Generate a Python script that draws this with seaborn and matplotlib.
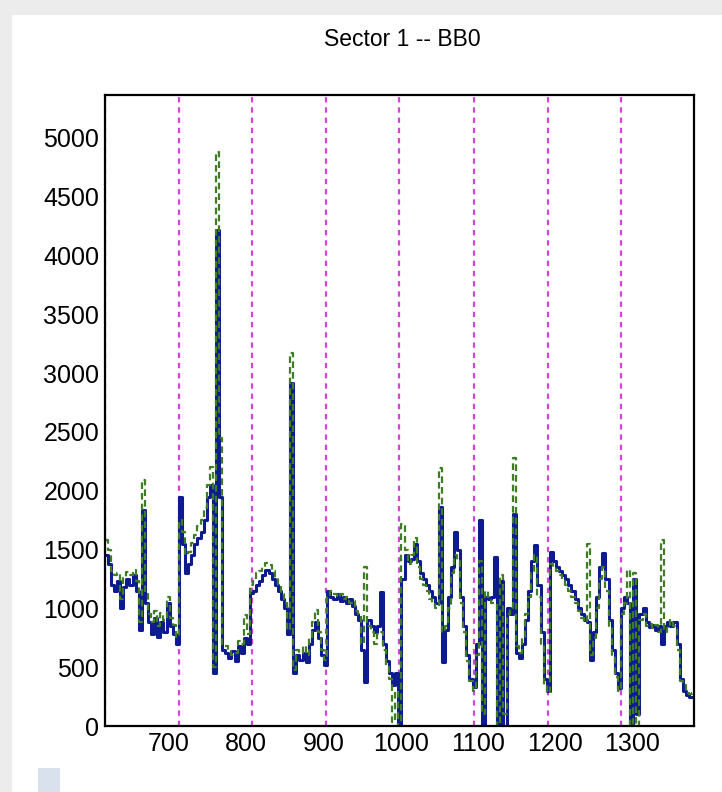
import numpy as np
import pandas as pd
import seaborn as sns
import matplotlib
matplotlib.use("Agg")
import matplotlib.pyplot as plt
from matplotlib.patches import Rectangle
from matplotlib.ticker import MultipleLocator

# Channel axis: 4-channel bins from 617 to 1381
bin_start = 617
bin_width = 4
n_bins = 191

# Counts per bin, first pass (solid blue)
counts_a = [
    1450, 1380, 1200, 1150, 1230, 1000, 1180, 1250, 1200, 1280,
    1150, 820, 1840, 1050, 880, 780, 920, 760, 880, 800,
    1050, 850, 780, 700, 1950, 1550, 1300, 1380, 1450, 1550,
    1600, 1650, 1750, 1950, 2050, 450, 4220, 1950, 650, 620,
    580, 640, 550, 680, 620, 750, 700, 1130, 1150, 1200,
    1230, 1280, 1330, 1300, 1250, 1200, 1150, 1080, 1000, 780,
    2920, 450, 600, 560, 620, 540, 700, 820, 880, 750,
    600, 520, 1150, 1100, 1080, 1120, 1060, 1100, 1050, 1080,
    1020, 950, 900, 650, 370, 900, 850, 800, 850, 1140,
    700, 550, 450, 350, 450, 0, 1250, 1450, 1400, 1420,
    1550, 1400, 1300, 1250, 1200, 1150, 1100, 1050, 1860, 540,
    820, 1100, 1350, 1650, 1500, 1100, 850, 600, 400, 330,
    700, 1750, 0, 1100, 1080, 1100, 1440, 0, 1230, 0,
    1000, 950, 1800, 620, 580, 700, 900, 1150, 1400, 1540,
    1200, 800, 400, 300, 1480, 1400, 1350, 1320, 1280, 1250,
    1200, 1150, 1080, 1000, 950, 900, 880, 560, 800, 1100,
    1350, 1470, 1250, 900, 650, 450, 320, 1000, 1100, 1050,
    0, 1250, 100, 950, 1000, 880, 840, 860, 820, 850,
    700, 850, 880, 850, 880, 700, 400, 300, 260, 250,
    250,
]

# Counts per bin, second pass (dashed green)
counts_b = [
    1580, 1500, 1320, 1280, 1300, 1080, 1260, 1310, 1280, 1330,
    1230, 880, 2090, 1120, 950, 880, 980, 850, 960, 900,
    1100, 920, 860, 760, 1750, 1650, 1450, 1480, 1560, 1620,
    1700, 1750, 1850, 2050, 2200, 500, 4880, 2450, 700, 680,
    640, 600, 620, 720, 700, 940, 780, 1200, 1250, 1300,
    1320, 1350, 1390, 1370, 1320, 1250, 1200, 1120, 1050, 820,
    3170, 480, 650, 620, 680, 600, 760, 880, 990, 800,
    650, 560, 1100, 1150, 1120, 1100, 1120, 1080, 1100, 1050,
    1060, 980, 950, 700, 1350, 850, 800, 700, 780, 800,
    650, 500, 400, 30, 300, 0, 1720, 1500, 1380, 1450,
    1600, 1350, 1250, 1200, 1150, 1080, 1050, 1000, 2190, 800,
    850, 1000, 1300, 1450, 1400, 1050, 800, 550, 380, 300,
    600, 1400, 100, 1150, 1100, 1050, 1050, 0, 1280, 100,
    950, 1000, 2280, 680, 620, 760, 950, 1100, 1300, 1450,
    1100, 700, 350, 280, 1380, 1350, 1320, 1280, 1230, 1200,
    1150, 1100, 1050, 980, 920, 880, 1550, 600, 750, 1000,
    1250, 1350, 1150, 850, 600, 420, 300, 950, 1050, 1330,
    0, 1300, 0, 900, 950, 850, 870, 830, 860, 800,
    1580, 800, 850, 900, 850, 650, 380, 350, 280, 270,
    280,
]

# Sector boundaries (channel positions)
boundaries = [617, 713, 808, 903, 998, 1095, 1191, 1285]

x_ticks = [700, 800, 900, 1000, 1100, 1200, 1300]
y_ticks = [0, 500, 1000, 1500, 2000, 2500, 3000, 3500, 4000, 4500, 5000]
title = "Sector 1 -- BB0"

centers = bin_start + bin_width * (np.arange(n_bins) + 0.5)
df = pd.DataFrame({"channel": centers, "a": counts_a, "b": counts_b})
bin_range = (bin_start, bin_start + bin_width * n_bins)

sns.set_theme(style="white")
plt.rcParams["font.family"] = ["Liberation Sans", "DejaVu Sans"]

W, H = 722, 792
fig = plt.figure(figsize=(W / 100, H / 100), dpi=100)
fig.patch.set_facecolor("#ececec")
fig.add_artist(Rectangle((12 / W, 0), 1 - 12 / W, 1 - 15 / H,
                         transform=fig.transFigure, facecolor="white",
                         edgecolor="none", zorder=0))
fig.add_artist(Rectangle((38 / W, 0), 22 / W, 24 / H,
                         transform=fig.transFigure, facecolor="#d9e1ec",
                         edgecolor="none", zorder=1))

left, right, top, bottom = 104.7, 694.3, 95, 726
ax = fig.add_axes([left / W, 1 - bottom / H, (right - left) / W, (bottom - top) / H])
ax.set_facecolor("white")

for b in boundaries:
    ax.axvline(b, color="#d444dd", lw=1.6, dashes=(2.4, 2.2), zorder=1)

sns.histplot(data=df, x="channel", weights="a", binwidth=bin_width,
             binrange=bin_range, element="step", fill=False,
             color="#0d1a90", linewidth=2.2, ax=ax, zorder=3)
sns.histplot(data=df, x="channel", weights="b", binwidth=bin_width,
             binrange=bin_range, element="step", fill=False,
             color="#3f7d24", linewidth=1.6, ax=ax, zorder=4)
ax.lines[-1].set_dashes((3.0, 1.8))

ax.set_xlim(617, 1380)
ax.set_ylim(0, 5365)
ax.set_xticks(x_ticks)
ax.set_yticks(y_ticks)
ax.set_xticklabels([str(v) for v in x_ticks])
ax.set_yticklabels([str(v) for v in y_ticks])
ax.xaxis.set_minor_locator(MultipleLocator(20))
ax.yaxis.set_minor_locator(MultipleLocator(100))
ax.tick_params(axis="both", which="both", direction="in", colors="black",
               labelsize=18, top=False, right=False, width=1.2)
ax.tick_params(axis="both", which="major", length=11, pad=4)
ax.tick_params(axis="both", which="minor", length=5.5)
ax.set_xlabel("")
ax.set_ylabel("")
for s in ax.spines.values():
    s.set_visible(True)
    s.set_color("black")
    s.set_linewidth(1.6)
    s.set_zorder(5)

fig.text(402 / W, 1 - 40 / H, title, ha="center", va="center", fontsize=16.5,
         color="black")

fig.savefig("out.png", dpi=100)
